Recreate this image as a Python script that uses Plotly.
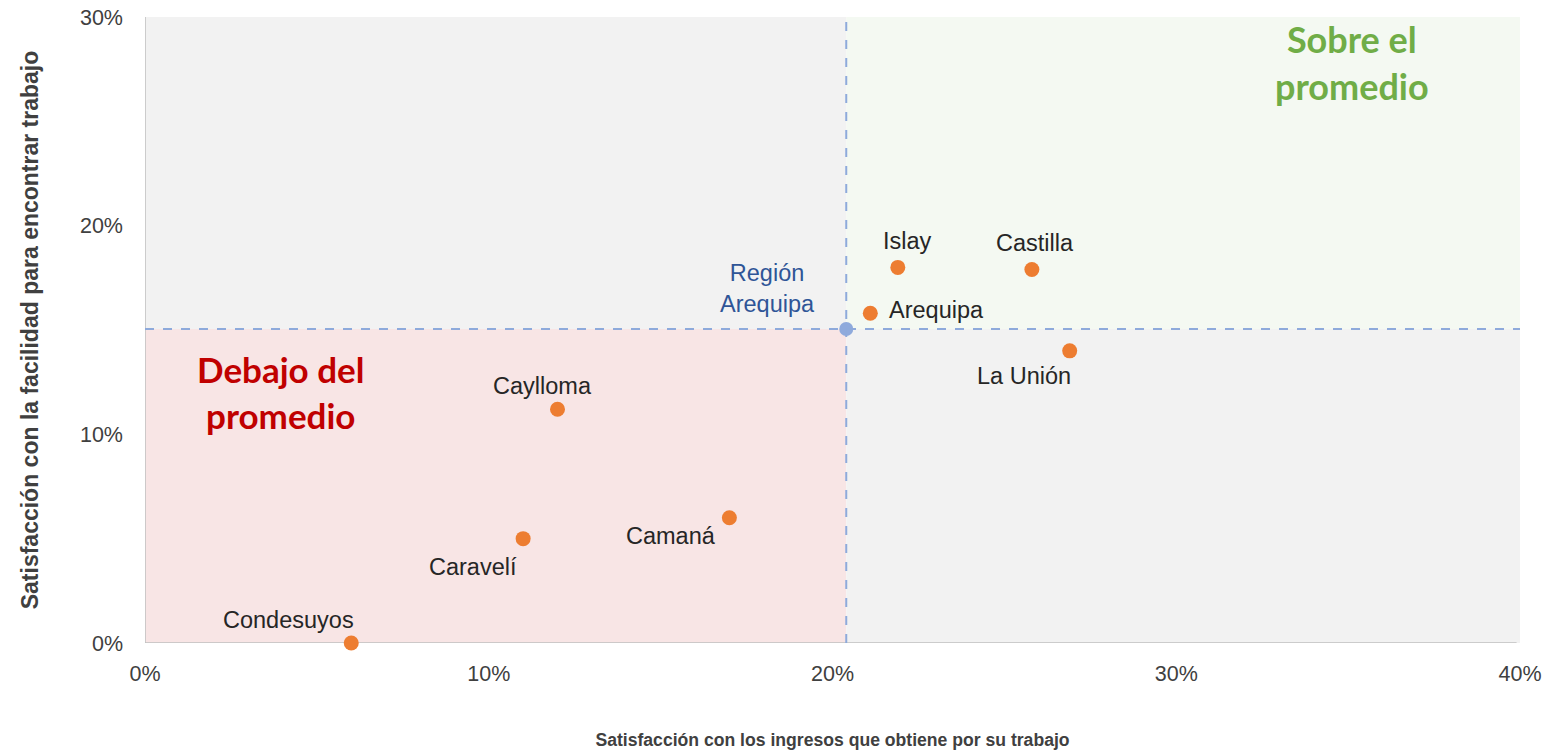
import plotly.graph_objects as go

provincias = ["Condesuyos", "Caravelí", "Caylloma", "Camaná", "Arequipa", "Islay", "Castilla", "La Unión"]
ingresos = [0.060, 0.110, 0.120, 0.170, 0.211, 0.219, 0.258, 0.269]
facilidad = [0.000, 0.050, 0.112, 0.060, 0.158, 0.180, 0.179, 0.140]

region_nombre = "Región<br>Arequipa"
region_x = 0.204
region_y = 0.1505

x_ticks = [0, 0.1, 0.2, 0.3, 0.4]
x_tick_labels = ["0%", "10%", "20%", "30%", "40%"]
y_ticks = [0, 0.1, 0.2, 0.3]
y_tick_labels = ["0%", "10%", "20%", "30%"]

# label offsets (pixels) relative to each point
label_shift = {
    "Condesuyos": (-63, 23),
    "Caravelí": (-50, -28),
    "Caylloma": (-15, 23),
    "Camaná": (-58, -18),
    "Arequipa": (66, 3),
    "Islay": (10, 26),
    "Castilla": (3, 26),
    "La Unión": (-46, -25),
}

fig = go.Figure()

X0, X1 = 0.0, 0.40
Y0, Y1 = 0.0, 0.30
ex = 0.0006
ey = 0.0034
grey = "#f2f2f2"
quadrants = [
    (X0 - ex, region_x, region_y, Y1 + ey, grey),
    (region_x, X1 + ex, region_y, Y1 + ey, "#f4f9f2"),
    (X0 - ex, region_x, Y0 - ey / 2, region_y, "#f8e5e5"),
    (region_x, X1 + ex, Y0 - ey / 2, region_y, grey),
]
for x0, x1, y0, y1, c in quadrants:
    fig.add_shape(type="rect", x0=x0, x1=x1, y0=y0, y1=y1, xref="x", yref="y",
                  fillcolor=c, line=dict(width=0), layer="below")

# axis lines
fig.add_shape(type="line", x0=X0, x1=X0, y0=Y0, y1=Y1, xref="x", yref="y",
              line=dict(color="#bfbfbf", width=1.5), layer="below")
fig.add_shape(type="line", x0=X0, x1=X1 - 0.001, y0=Y0, y1=Y0, xref="x", yref="y",
              line=dict(color="#bfbfbf", width=1.5), layer="below")

# dashed average lines
dash_col = "#8eaadb"
fig.add_shape(type="line", x0=X0, x1=X1, y0=region_y, y1=region_y, xref="x", yref="y",
              line=dict(color=dash_col, width=2, dash="dash"))
fig.add_shape(type="line", x0=region_x, x1=region_x, y0=Y0, y1=Y1 + ey, xref="x", yref="y",
              line=dict(color=dash_col, width=2, dash="dash"))

fig.add_trace(go.Scatter(
    x=ingresos, y=facilidad, mode="markers",
    marker=dict(color="#ed7d31", size=15, line=dict(width=0)),
    cliponaxis=False, hoverinfo="text", text=provincias, showlegend=False))

fig.add_trace(go.Scatter(
    x=[region_x], y=[region_y], mode="markers",
    marker=dict(color="#8faadc", size=14, line=dict(width=0)),
    cliponaxis=False, showlegend=False))

for name, xv, yv in zip(provincias, ingresos, facilidad):
    dx, dy = label_shift[name]
    fig.add_annotation(x=xv, y=yv, text=name, showarrow=False, xshift=dx, yshift=dy,
                       font=dict(family="Liberation Sans, Arial", size=23.5, color="#262626"))

fig.add_annotation(x=region_x, y=region_y, text=region_nombre, showarrow=False,
                   xshift=-79, yshift=40, align="center",
                   font=dict(family="Liberation Sans, Arial", size=23.5, color="#2f5597"))

fig.add_annotation(x=0.0393, y=0.1203, text="<b>Debajo del<br>promedio</b>", showarrow=False,
                   align="center", font=dict(family="Lato, Open Sans", size=35, color="#c00000"))
fig.add_annotation(x=0.351, y=0.2784, text="<b>Sobre el<br>promedio</b>", showarrow=False,
                   align="center", font=dict(family="Lato, Open Sans", size=36, color="#70ad47"))

fig.update_layout(
    width=1545, height=750,
    margin=dict(l=145, r=25, t=17, b=107),
    paper_bgcolor="white", plot_bgcolor="white",
    font=dict(family="Liberation Sans, Arial", color="#404040"),
    xaxis=dict(range=[X0, X1], tickvals=x_ticks, ticktext=x_tick_labels,
               showgrid=False, zeroline=False, showline=False, ticks="",
               automargin=False, ticklabeloverflow="allow",
               tickfont=dict(size=21.5, color="#404040"), ticklabelstandoff=15,
               title=dict(text="<b>Satisfacción con los ingresos que obtiene por su trabajo</b>",
                          font=dict(size=17.6, color="#404040"), standoff=52)),
    yaxis=dict(range=[Y0, Y1], tickvals=y_ticks, ticktext=y_tick_labels,
               showgrid=False, zeroline=False, showline=False, ticks="",
               automargin=False, ticklabeloverflow="allow",
               tickfont=dict(size=21.5, color="#404040"), ticklabelstandoff=21,
               title=dict(text="<b>Satisfacción con la facilidad para encontrar trabajo</b>",
                          font=dict(size=23, color="#404040"), standoff=34)),
)

# remove the default 8px page margin so the figure fills the window exactly
fig.write_html("out.html", config={"displayModeBar": False},
               post_script="document.body.style.margin='0';")
